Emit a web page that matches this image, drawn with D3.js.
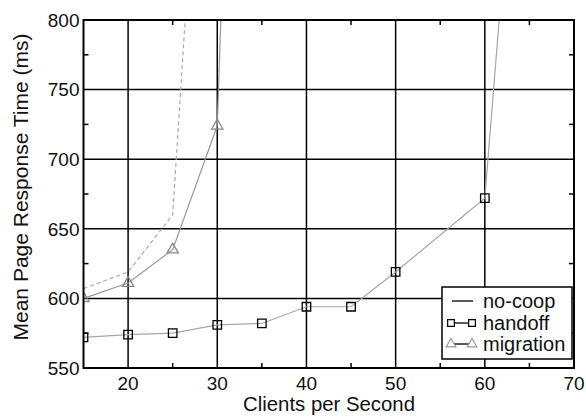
<!DOCTYPE html>
<html>
<head>
<meta charset="utf-8">
<script src="https://cdn.jsdelivr.net/npm/d3@7"></script>
<style>
  body { margin: 0; background: #fff; }
  svg text { font-family: "Liberation Sans", Arial, sans-serif; fill: #111; }
</style>
</head>
<body>
<svg id="chart" width="586" height="417"></svg>
<script>
'use strict';

// Data
const noCoopX    = [15, 20, 25, 30];
const noCoop     = [607, 619, 660, 1160];
const handoffX   = [15, 20, 25, 30, 35, 40, 45, 50, 60, 65];
const handoff    = [572, 574, 575, 581, 582, 594, 594, 619, 672, 1070];
const migrationX = [15, 20, 25, 30, 35];
const migration  = [600, 611, 635, 724, 1674];

const xTicks      = [20, 30, 40, 50, 60, 70];
const xMinorTicks = [25, 35, 45, 55, 65];
const yTicks      = [550, 600, 650, 700, 750, 800];
const yMinorTicks = [575, 625, 675, 725, 775];
const legendNames = ['no-coop', 'handoff', 'migration'];

const plot = { left: 83.5, right: 574, top: 20, bottom: 368 };

const svg = d3.select('#chart');

const x = d3.scaleLinear().domain([15, 70]).range([plot.left, plot.right]);
const y = d3.scaleLinear().domain([550, 800]).range([plot.bottom, plot.top]);

svg.append('defs').append('clipPath').attr('id', 'clip')
  .append('rect')
    .attr('x', plot.left).attr('y', plot.top)
    .attr('width', plot.right - plot.left)
    .attr('height', plot.bottom - plot.top);

// Grid lines
const grid = svg.append('g');
grid.selectAll('.vx').data(xTicks.filter(t => t < 70)).enter().append('line')
  .attr('x1', d => x(d)).attr('x2', d => x(d))
  .attr('y1', plot.top).attr('y2', plot.bottom)
  .attr('stroke', '#000').attr('stroke-width', 1.5);
grid.selectAll('.hy').data(yTicks.filter(t => t > 550 && t < 800)).enter().append('line')
  .attr('y1', d => y(d)).attr('y2', d => y(d))
  .attr('x1', plot.left).attr('x2', plot.right)
  .attr('stroke', '#000').attr('stroke-width', 1.5);

// Minor ticks, inward on all four sides
const tickLen = 5;
const minor = svg.append('g').attr('stroke', '#000').attr('stroke-width', 1.5);
for (const t of xMinorTicks) {
  minor.append('line').attr('x1', x(t)).attr('x2', x(t)).attr('y1', plot.bottom).attr('y2', plot.bottom - tickLen);
  minor.append('line').attr('x1', x(t)).attr('x2', x(t)).attr('y1', plot.top).attr('y2', plot.top + tickLen);
}
for (const t of yMinorTicks) {
  minor.append('line').attr('y1', y(t)).attr('y2', y(t)).attr('x1', plot.left).attr('x2', plot.left + tickLen);
  minor.append('line').attr('y1', y(t)).attr('y2', y(t)).attr('x1', plot.right).attr('x2', plot.right - tickLen);
}

// Series lines
const series = [
  { name: 'no-coop',   xs: noCoopX,    ys: noCoop,    dash: '4,3', color: '#aaa', marker: null },
  { name: 'handoff',   xs: handoffX,   ys: handoff,   dash: null,  color: '#a6a6a6', marker: 'square' },
  { name: 'migration', xs: migrationX, ys: migration, dash: null,  color: '#999', marker: 'triangle' },
];

const line = d3.line().x(d => x(d[0])).y(d => y(d[1]));
const dataLayer = svg.append('g').attr('clip-path', 'url(#clip)');

for (const s of series) {
  const pts = s.xs.map((v, i) => [v, s.ys[i]]);
  dataLayer.append('path')
    .datum(pts)
    .attr('d', line)
    .attr('fill', 'none')
    .attr('stroke', s.color)
    .attr('stroke-width', 1.2)
    .attr('stroke-dasharray', s.dash);

  if (s.marker) {
    const sym = s.marker === 'square' ? d3.symbolSquare : d3.symbolTriangle;
    const size = s.marker === 'square' ? 72 : 55;
    dataLayer.selectAll(null).data(pts.filter(p => p[1] <= 800)).enter().append('path')
      .attr('d', d3.symbol().type(sym).size(size))
      .attr('transform', d => `translate(${x(d[0])},${y(d[1])})`)
      .attr('fill', 'none')
      .attr('stroke', s.marker === 'square' ? '#000' : '#888')
      .attr('stroke-width', 1.3);
  }
}

// Frame
svg.append('rect')
  .attr('x', plot.left).attr('y', plot.top)
  .attr('width', plot.right - plot.left).attr('height', plot.bottom - plot.top)
  .attr('fill', 'none').attr('stroke', '#000').attr('stroke-width', 2);

// Tick labels
svg.append('g').selectAll('text').data(yTicks).enter().append('text')
  .attr('x', plot.left - 4)
  .attr('y', d => y(d))
  .attr('dy', '0.36em')
  .attr('text-anchor', 'end')
  .attr('font-size', 19)
  .text(d => d);

svg.append('g').selectAll('text').data(xTicks).enter().append('text')
  .attr('x', d => x(d))
  .attr('y', 390)
  .attr('text-anchor', 'middle')
  .attr('font-size', 19)
  .text(d => d);

// Axis titles
svg.append('text')
  .attr('x', 243)
  .attr('y', 411)
  .attr('font-size', 21)
  .attr('textLength', 172)
  .attr('lengthAdjust', 'spacingAndGlyphs')
  .text('Clients per Second');

svg.append('text')
  .attr('transform', 'translate(28,187) rotate(-90)')
  .attr('text-anchor', 'middle')
  .attr('font-size', 21)
  .text('Mean Page Response Time (ms)');

// Legend
const legend = svg.append('g');
legend.append('rect')
  .attr('x', 442).attr('y', 287).attr('width', 130).attr('height', 72)
  .attr('fill', '#fff').attr('stroke', '#000').attr('stroke-width', 1.5);

const rowY = [301, 323, 344];
legendNames.forEach((name, i) => {
  const cy = rowY[i];
  legend.append('line')
    .attr('x1', 452).attr('x2', 473).attr('y1', cy).attr('y2', cy)
    .attr('stroke', '#000').attr('stroke-width', 1.3);
  const s = series[i];
  if (s.marker) {
    const sym = s.marker === 'square' ? d3.symbolSquare : d3.symbolTriangle;
    for (const mx of [451, 472]) {
      legend.append('path')
        .attr('d', d3.symbol().type(sym).size(s.marker === 'square' ? 45 : 40))
        .attr('transform', `translate(${mx},${cy})`)
        .attr('fill', '#fff')
        .attr('stroke', s.marker === 'square' ? '#000' : '#999')
        .attr('stroke-width', 1.2);
    }
  }
  legend.append('text')
    .attr('x', 483).attr('y', cy + 7)
    .attr('font-size', 20)
    .text(name);
});
</script>
</body>
</html>
